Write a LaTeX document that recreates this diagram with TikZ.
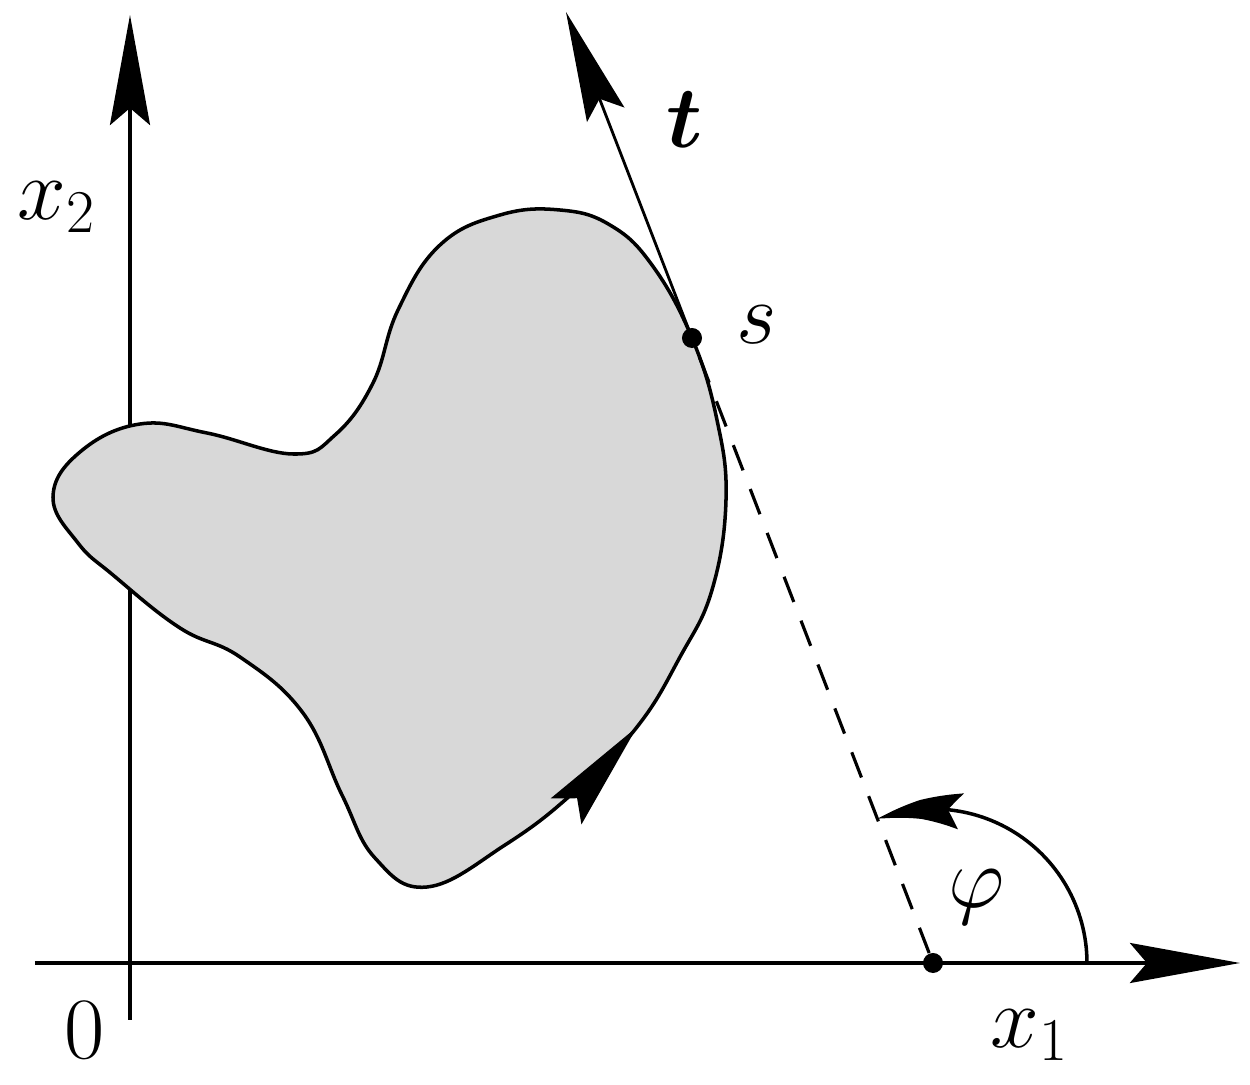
\documentclass[tikz,border=0pt]{standalone}
\usepackage{amsmath}
\usetikzlibrary{arrows.meta,bending}
\tikzset{
  bigarrow/.style={-{Stealth[length=1.1cm,width=0.4cm,inset=0.17cm]}},
  arcarrow/.style={-{Stealth[length=0.85cm,width=0.36cm,inset=0.13cm,bend]}},
  axis/.style={line width=1pt,bigarrow},
  dot/.style={circle,fill=black,inner sep=0pt,minimum size=0.2cm},
  lbl/.style={font=\fontsize{24}{28}\selectfont,inner sep=0pt},
  region/.style={fill={rgb,255:red,216;green,216;blue,216},draw=black,line width=1pt}
}
\begin{document}
\begin{tikzpicture}[x=0.01cm,y=0.01cm]
\path[use as bounding box] (0,0) rectangle (1250,-1085);
% axes
\coordinate (x2s) at (130,-1020);
\coordinate (x2e) at (130,-15);
\coordinate (x1s) at (35,-963);
\coordinate (x1e) at (1240,-963);
\draw[axis] (x2s) -- (x2e);
\draw[axis] (x1s) -- (x1e);
% region
\draw[region] plot[smooth cycle, tension=0.7] coordinates {
(53,-497) (80,-452) (140,-424) (207,-433) (293,-454) (335,-435) (373,-383)
(398,-310) (440,-245) (500,-215) (560,-210) (610,-225) (652,-265) (692,-338)
(717,-420) (726,-500) (712,-590) (680,-657) (637,-727) (573,-793) (505,-845)
(427,-887) (375,-858) (342,-795) (303,-713) (240,-657) (180,-628) (113,-575)
(78,-543)};
% orientation arrow on boundary
\coordinate (ca) at (579,-796);
\coordinate (cb) at (637,-727);
\draw[line width=1pt,bigarrow] (ca) -- (cb);
% points
\node[dot] (P) at (933,-963) {};
\node[dot] (S) at (692,-338) {};
\coordinate (T) at (566,-12);
\draw[line width=0.9pt,dash pattern=on 0.27cm off 0.2cm] (P) -- (S);
\draw[line width=0.8pt,bigarrow] (S.center) -- (T);
% angle
\coordinate (A0) at (1087,-963);
\draw[line width=1pt,arcarrow] (A0) arc[start angle=0,end angle=111.06,radius=154];
% labels
\node[lbl] (lx2) at (57,-207) {$x_2$};
\node[lbl] (l0) at (85,-1030) {$0$};
\node[lbl] (lx1) at (1030,-1035) {$x_1$};
\node[lbl] (lt) at (685,-120) {$\boldsymbol{t}$};
\node[lbl] (ls) at (757,-325) {$s$};
\node[lbl] (lphi) at (977,-897) {$\varphi$};
\end{tikzpicture}
\end{document}
